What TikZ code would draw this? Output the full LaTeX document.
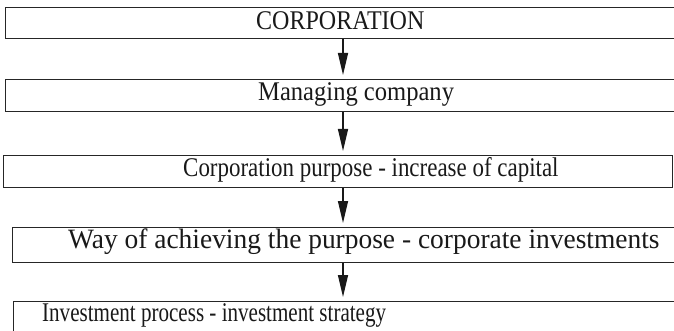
\documentclass[tikz,border=0pt]{standalone}
\usepackage{fontspec}
\setmainfont{Liberation Serif}
\usetikzlibrary{arrows.meta}
\newcommand{\sqz}[2]{\scalebox{#1}[1]{#2}}
\begin{document}
\begin{tikzpicture}[x=1pt,y=-1pt,
  boxst/.style={draw=black!85,line width=1.3pt,rectangle,inner sep=0pt,anchor=north west},
  txt/.style={font=\fontsize{27}{30}\selectfont,inner sep=0pt,text=black!90,anchor=west},
  arr/.style={line width=1.4pt,draw=black!90,-{Triangle[length=22pt,width=10pt]},shorten >=4pt}]
\clip (0,0) rectangle (674,331);
\fill[white] (0,0) rectangle (674,331);
\node[boxst,minimum width=680pt,minimum height=31pt] (b1) at (5,7) {};
\node[boxst,minimum width=680pt,minimum height=32pt] (b2) at (5,79) {};
\node[boxst,minimum width=669pt,minimum height=32pt] (b3) at (3,155) {};
\node[boxst,minimum width=670pt,minimum height=35pt] (b4) at (12,227) {};
\node[boxst,minimum width=670pt,minimum height=40pt] (b5) at (13,301) {};
\node[txt] (t1) at (256,21) {\sqz{0.89}{CORPORATION}};
\node[txt] (t2) at (258,94) {\sqz{0.91}{Managing company}};
\node[txt] (t3) at (183,170) {\sqz{0.85}{Corporation purpose - increase of capital}};
\node[txt,font=\fontsize{28}{30}\selectfont] (t4) at (68,242) {\sqz{0.98}{Way of achieving the purpose - corporate investments}};
\node[txt] (t5) at (42,315) {\sqz{0.78}{Investment process - investment strategy}};
\coordinate (ax) at (343,0);
\draw[arr] (b1.south -| ax) -- (b2.north -| ax);
\draw[arr] (b2.south -| ax) -- (b3.north -| ax);
\draw[arr] (b3.south -| ax) -- (b4.north -| ax);
\draw[arr] (b4.south -| ax) -- (b5.north -| ax);
\end{tikzpicture}
\end{document}
